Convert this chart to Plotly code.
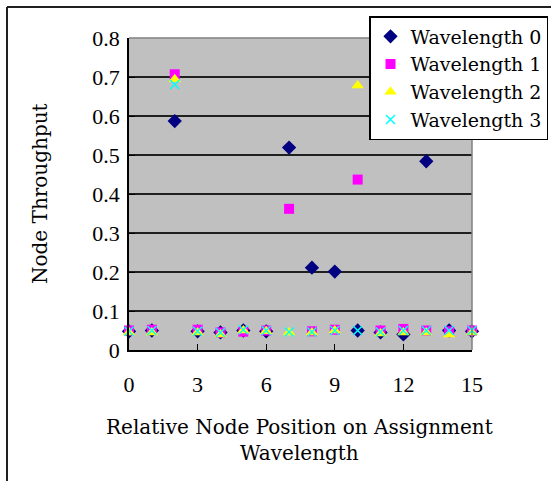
import plotly.graph_objects as go

# Node positions relative to the assignment wavelength
positions = list(range(16))

# Node throughput per wavelength
wavelength_0 = [0.048, 0.050, 0.587, 0.048, 0.045, 0.050, 0.048, 0.519, 0.211, 0.201,
                0.050, 0.045, 0.040, 0.484, 0.050, 0.048]
wavelength_1 = [0.050, 0.052, 0.707, 0.052, 0.045, 0.047, 0.050, 0.362, 0.048, 0.052,
                0.437, 0.050, 0.054, 0.050, 0.048, 0.050]
wavelength_2 = [0.045, 0.045, 0.694, 0.045, 0.040, 0.050, 0.048, 0.045, 0.045, 0.050,
                0.678, 0.042, 0.045, 0.045, 0.040, 0.045]
wavelength_3 = [0.048, 0.050, 0.681, 0.048, 0.045, 0.052, 0.050, 0.046, 0.046, 0.050,
                0.050, 0.046, 0.050, 0.050, 0.050, 0.050]

series_names = ["Wavelength 0", "Wavelength 1", "Wavelength 2", "Wavelength 3"]
x_ticks = [0, 3, 6, 9, 12, 15]
y_ticks = [0, 0.1, 0.2, 0.3, 0.4, 0.5, 0.6, 0.7, 0.8]

W, H = 551, 481
L, R, T, B = 129, 79, 38, 131
PW, PH = W - L - R, H - T - B
NUM_FONT = "Liberation Serif, Times New Roman, serif"
TEXT_FONT = "DejaVu Serif, serif"


def px_x(p):
    return (p - L) / PW


def px_y(p):
    return (H - B - p) / PH


fig = go.Figure()
fig.add_trace(go.Scatter(x=positions, y=wavelength_0, mode="markers", name=series_names[0],
                         marker=dict(symbol="diamond", size=11, color="#000080"),
                         cliponaxis=False))
fig.add_trace(go.Scatter(x=positions, y=wavelength_1, mode="markers", name=series_names[1],
                         marker=dict(symbol="square", size=10, color="#FF00FF"),
                         cliponaxis=False))
fig.add_trace(go.Scatter(x=positions, y=wavelength_2, mode="markers", name=series_names[2],
                         marker=dict(symbol="triangle-up", size=11, color="#FFFF00"),
                         cliponaxis=False))
fig.add_trace(go.Scatter(x=positions, y=wavelength_3, mode="markers", name=series_names[3],
                         marker=dict(symbol="x-thin", size=9, color="#00FFFF",
                                     line=dict(color="#00FFFF", width=1.5)),
                         cliponaxis=False))

fig.update_layout(
    width=W, height=H,
    margin=dict(l=L, r=R, t=T, b=B, autoexpand=False),
    paper_bgcolor="white",
    plot_bgcolor="#C0C0C0",
    font=dict(family=TEXT_FONT, size=20, color="black"),
    showlegend=True,
    legend=dict(x=px_x(548), y=px_y(16), xanchor="right", yanchor="top",
                bgcolor="white", bordercolor="black", borderwidth=1.5,
                font=dict(family=TEXT_FONT, size=19, color="black"),
                tracegroupgap=0, itemwidth=30),
    xaxis=dict(range=[0, 15], tickvals=x_ticks, ticktext=[str(v) for v in x_ticks],
               showgrid=False, zeroline=False, showline=True, linecolor="black",
               linewidth=1.5, ticks="inside", ticklen=6, tickcolor="black",
               ticklabelstandoff=14,
               tickfont=dict(family=NUM_FONT, size=22), mirror=False),
    yaxis=dict(range=[0, 0.8], tickvals=y_ticks,
               ticktext=["0" if v == 0 else f"{v:.1f}" for v in y_ticks],
               showgrid=True, gridcolor="#202020", gridwidth=1.5,
               zeroline=False, showline=True, linecolor="black", linewidth=1.5,
               ticks="inside", ticklen=6, tickcolor="black",
               ticklabelstandoff=3,
               tickfont=dict(family=NUM_FONT, size=22)),
    annotations=[
        dict(text="Node Throughput", xref="paper", yref="paper",
             x=px_x(40), y=px_y(194), textangle=-90,
             showarrow=False, font=dict(family=TEXT_FONT, size=20),
             xanchor="center", yanchor="middle"),
        dict(text="Relative Node Position on Assignment<br>Wavelength",
             xref="paper", yref="paper",
             x=px_x(299), y=px_y(440),
             showarrow=False, font=dict(family=TEXT_FONT, size=20),
             xanchor="center", yanchor="middle"),
    ],
    shapes=[
        # plot area frame (top and right)
        dict(type="line", xref="paper", yref="paper", x0=0, x1=1, y0=1, y1=1,
             line=dict(color="#808080", width=1.5)),
        dict(type="line", xref="paper", yref="paper", x0=1, x1=1, y0=0, y1=1,
             line=dict(color="#808080", width=1.5)),
        # chart border
        dict(type="line", xref="paper", yref="paper",
             x0=px_x(7), x1=px_x(560), y0=px_y(7), y1=px_y(7),
             line=dict(color="#202020", width=2)),
        dict(type="line", xref="paper", yref="paper",
             x0=px_x(7), x1=px_x(7), y0=px_y(7), y1=px_y(490),
             line=dict(color="#202020", width=2)),
    ],
)

fig.write_html("out.html")
